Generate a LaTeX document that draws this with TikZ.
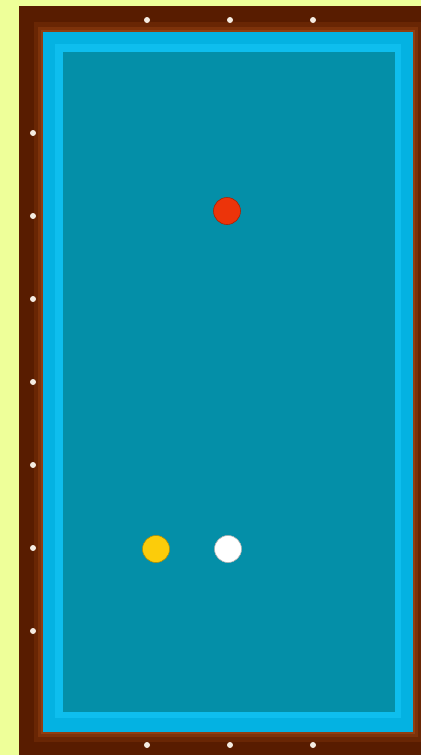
\documentclass[tikz,border=0pt]{standalone}
\usetikzlibrary{calc}
\definecolor{bgy}{RGB}{238,255,153}
\definecolor{frameD}{RGB}{88,28,0}
\definecolor{frameM}{RGB}{105,38,4}
\definecolor{frameL}{RGB}{125,50,10}
\definecolor{frameO}{RGB}{145,62,16}
\definecolor{cush}{RGB}{4,178,226}
\definecolor{cushL}{RGB}{14,190,238}
\definecolor{cloth}{RGB}{4,143,168}
\definecolor{redball}{RGB}{236,52,10}
\definecolor{yelball}{RGB}{252,204,10}
\tikzset{
  diam/.style={circle,fill=white!85!brown,inner sep=0pt,minimum size=6pt},
  ball/.style={circle,inner sep=0pt,minimum size=27pt,draw=#1!70!black,line width=0.6pt,fill=#1},
}
\begin{document}
\begin{tikzpicture}[x=1pt,y=-1pt]
\useasboundingbox (0,0) rectangle (421,755);
\fill[bgy] (0,0) rectangle (421,755);
\fill[frameD] (19,6) rectangle (421,755);
\fill[frameM] (34,22) rectangle (421,742);
\fill[frameL] (38,27) rectangle (418,737);
\fill[frameO] (41,30) rectangle (415,734);
\fill[cush] (43,32) rectangle (413,732);
\fill[cushL] (55,44) rectangle (401,718);
\fill[cloth] (63,52) rectangle (395,712);
% diamonds
\foreach \x [count=\i] in {147,230,313} {
  \node[diam] (t\i) at (\x,20) {};
  \node[diam] (b\i) at (\x,745) {};
}
\foreach \y [count=\i] in {133,216,299,382,465,548,631} {
  \node[diam] (l\i) at (33,\y) {};
}
% balls
\node[ball=redball] (red) at (227,211) {};
\node[ball=yelball] (yellow) at (156,549) {};
\node[ball=white] (white) at (228,549) {};
\end{tikzpicture}
\end{document}
